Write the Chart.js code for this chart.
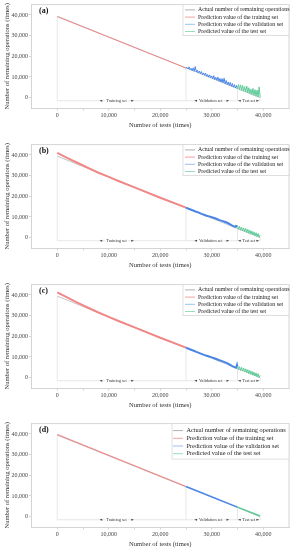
<!DOCTYPE html>
<html><head><meta charset="utf-8">
<script src="https://cdn.jsdelivr.net/npm/chart.js@4.4.0/dist/chart.umd.min.js"></script>
<style>
html,body{margin:0;padding:0;background:#fff;width:294px;height:550px;overflow:hidden;}
.p{position:absolute;left:0;width:294px;height:140px;}
</style></head><body>
<div class="p" style="top:0px"><canvas id="ca" width="294" height="140"></canvas></div>
<div class="p" style="top:140px"><canvas id="cb" width="294" height="140"></canvas></div>
<div class="p" style="top:280px"><canvas id="cc" width="294" height="140"></canvas></div>
<div class="p" style="top:419px"><canvas id="cd" width="294" height="140"></canvas></div>
<script>
// ---------- data ----------
const seriesNames = ['Actual number of remaining operations','Prediction value of the training set','Prediction value of the validation set','Predicted value of the test set'];
const panelLabels = ['(a)','(b)','(c)','(d)'];
const xTitle = 'Number of tests (times)';
const yTitle = 'Number of remaining operations (times)';
const xTicks = [0,5000,10000,15000,20000,25000,30000,35000,40000];
const xTickLabels = ['0','','10,000','','20,000','','30,000','','40,000'];
const yTicks = [0,10000,20000,30000,40000];
const yTickLabels = ['0','10,000','20,000','30,000','40,000'];
const regionNames = ['Training set','Validation set','Test set'];
const regionBounds = [0,25000,35000,39400];
const regionLabelX = [11500,29800,37200];
const regionArrows = [[8500,14600],[26900,33100],[35400,38900]];
const annotationY = -1500;

const actualX = [0,39400];
const actualY = [39400,0];

const valX = [25000,25200,25400,25600,25800,26000,26200,26400,26600,26800,27000,27200,27400,27600,27800,28000,28200,28400,28600,28800,29000,29200,29400,29600,29800,30000,30200,30400,30600,30800,31000,31200,31400,31600,31800,32000,32200,32400,32600,32800,33000,33200,33400,33600,33800,34000,34200,34400,34600,34800,35000];
const testX = [35000,35200,35400,35600,35800,36000,36200,36400,36600,36800,37000,37200,37400,37600,37800,38000,38200,38400,38600,38800,39000,39200,39400];

// panel (a)
const aTrainX = [0,25000];
const aTrainY = [39200,14300];
const aValY = [14300,14600,13900,14900,13500,14200,13100,14400,12800,15000,12400,13300,11900,12900,11600,12600,11100,12000,10800,11900,10300,11200,9900,11000,9600,10500,9100,10600,8700,9800,8400,9900,7900,9300,7500,9200,7200,9400,6700,8300,6300,7600,5900,7400,5500,6800,5100,6300,4700,5900,4300];
const aTestY = [4300,6400,3900,6200,3500,5900,3100,5300,2700,5600,2300,4800,1900,4100,1500,4500,1100,3900,700,3700,300,5200,200];

// panel (b)
const bTrainX = [0,2000,4000,6000,8000,10000,12000,15000,20000,25000];
const bTrainY = [41000,38500,36100,33700,31400,29400,27300,24300,19300,14500];
const bValX = [25000,25500,26000,26500,27000,27500,28000,28500,29000,29500,30000,30500,31000,31500,32000,32500,33000,33500,34000,34500,34700,35000];
const bValY = [14500,14000,13500,13000,12500,12100,11500,11100,10600,10300,9900,9500,9000,8500,8100,7700,7200,6500,5800,5200,5700,5300];
const bTestY = [5800,4000,5500,3600,5100,3300,4700,2900,4400,2500,4000,2100,3600,1700,3200,1300,2800,900,2400,500,2000,200,1200];

// panel (c)
const cTrainX = [0,2000,4000,6000,8000,10000,12000,15000,20000,25000];
const cTrainY = [41200,38700,36200,33800,31500,29400,27300,24300,19300,14500];
const cValX = [25000,25500,26000,26500,27000,27500,28000,28500,29000,29500,30000,30500,31000,31500,32000,32500,33000,33500,34000,34500,34700,34900,35000];
const cValY = [14500,14000,13500,13000,12500,12000,11500,11000,10600,10200,9800,9400,8900,8400,8000,7500,7000,6300,5600,5000,4800,6200,4900];
const cTestY = [5600,3900,5300,3500,5000,3200,4600,2800,4300,2400,3900,2000,3500,1600,3100,1200,2700,800,2300,400,1900,100,1100];

// panel (d)
const dTrainX = [0,25000];
const dTrainY = [39700,14600];
const dValX = [25000,35000];
const dValY = [14600,4600];
const dTestX = [35000,39400];
const dTestY = [4600,300];

// ---------- rendering ----------
const FONT = "'Liberation Serif','Times New Roman',serif";
const COL = {actual:'#c4c4c4', train:'#f08888', val:'#4a86e8', test:'#5ccb98', axis:'#c9c9c9', text:'#333'};
const LEG_COL = ['#b0b0b0','#f4a0a0','#9cc0f0','#98dcc0'];
function pts(xs, ys){ return xs.map((x,i)=>({x:x, y:ys[i]})); }

const annotPlugin = {
  id:'annot',
  beforeDatasetsDraw(chart){
    const ctx = chart.ctx, xs = chart.scales.x, ys = chart.scales.y;
    ctx.save();
    ctx.strokeStyle = '#dcdcdc'; ctx.lineWidth = 0.7;
    const yA = ys.getPixelForValue(annotationY);
    ctx.beginPath();
    ctx.moveTo(xs.getPixelForValue(regionBounds[0]), yA);
    ctx.lineTo(xs.getPixelForValue(regionBounds[regionBounds.length-1]), yA);
    regionBounds.forEach(b=>{
      const px = xs.getPixelForValue(b);
      const top = ys.getPixelForValue(actualY[0] + (actualY[1]-actualY[0])*(b-actualX[0])/(actualX[1]-actualX[0]));
      ctx.moveTo(px, yA); ctx.lineTo(px, top);
    });
    ctx.stroke();
    ctx.restore();
  },
  afterDraw(chart, args, o){
    const ctx = chart.ctx, xs = chart.scales.x, ys = chart.scales.y, ca = chart.chartArea;
    ctx.save();
    // frame top/right
    ctx.strokeStyle = COL.axis; ctx.lineWidth = 0.8;
    ctx.beginPath();
    ctx.moveTo(ca.left, ca.top); ctx.lineTo(ca.right, ca.top); ctx.lineTo(ca.right, ca.bottom);
    ctx.stroke();
    // region labels
    const yA = ys.getPixelForValue(annotationY);
    ctx.font = '4.3px ' + FONT;
    ctx.textAlign = 'center'; ctx.textBaseline = 'middle';
    regionNames.forEach((n,i)=>{
      const px = xs.getPixelForValue(regionLabelX[i]);
      const w = ctx.measureText(n).width;
      ctx.fillStyle = '#fff';
      ctx.fillRect(px - w/2 - 1, yA - 2.5, w + 2, 5);
      ctx.fillStyle = '#333';
      ctx.fillText(n, px, yA + 0.3);
      const [l, r] = regionArrows[i];
      const lx = xs.getPixelForValue(l), rx = xs.getPixelForValue(r);
      ctx.fillStyle = '#444';
      ctx.beginPath(); ctx.moveTo(lx-1.5, yA); ctx.lineTo(lx+1.2, yA-1.1); ctx.lineTo(lx+1.2, yA+1.1); ctx.closePath(); ctx.fill();
      ctx.beginPath(); ctx.moveTo(rx+1.5, yA); ctx.lineTo(rx-1.2, yA-1.1); ctx.lineTo(rx-1.2, yA+1.1); ctx.closePath(); ctx.fill();
    });
    // legend
    const L = o.legend;
    const x0 = ca.right - L.w, y0 = ca.top;
    ctx.fillStyle = '#fff';
    ctx.fillRect(x0, y0, L.w, L.h);
    ctx.strokeStyle = '#d8d8d8'; ctx.lineWidth = 0.8;
    ctx.strokeRect(x0, y0, L.w, L.h);
    ctx.font = L.font + 'px ' + FONT;
    ctx.textAlign = 'left'; ctx.textBaseline = 'middle';
    seriesNames.forEach((n,i)=>{
      const yy = y0 + L.first + i*L.gap;
      ctx.strokeStyle = LEG_COL[i]; ctx.lineWidth = 1;
      ctx.beginPath(); ctx.moveTo(x0 + L.s0, yy); ctx.lineTo(x0 + L.s1, yy); ctx.stroke();
      ctx.fillStyle = '#222';
      ctx.fillText(n, x0 + L.tx, yy);
    });
    // panel label
    ctx.font = 'bold 8px ' + FONT;
    ctx.fillStyle = '#111';
    ctx.textAlign = 'left'; ctx.textBaseline = 'middle';
    ctx.fillText(o.label, ca.left + 7.5, ca.top + 6.8);
    ctx.restore();
  }
};

function makeChart(id, label, train, val, test, widths, legend){
  const datasets = [
    {label: seriesNames[3], data: pts(test[0], test[1]), borderColor: COL.test, borderWidth: widths[2], order: 1},
    {label: seriesNames[2], data: pts(val[0], val[1]), borderColor: COL.val, borderWidth: widths[1], order: 2},
    {label: seriesNames[1], data: pts(train[0], train[1]), borderColor: COL.train, borderWidth: widths[0], order: 3},
    {label: seriesNames[0], data: pts(actualX, actualY), borderColor: COL.actual, borderWidth: 1, order: 4}
  ];
  datasets.forEach(d=>{ d.pointRadius = 0; d.fill = false; d.tension = 0; });
  return new Chart(document.getElementById(id), {
    type: 'line',
    data: {datasets},
    plugins: [annotPlugin],
    options: {
      responsive: false, animation: false, devicePixelRatio: 1,
      layout: {padding: {top: 4, right: 5, left: 0, bottom: 0}},
      plugins: {legend: {display: false}, tooltip: {enabled: false}, annot: {label, legend}},
      scales: {
        x: {
          type: 'linear', min: -5000, max: 45000,
          afterBuildTicks: s => { s.ticks = xTicks.map(v=>({value:v})); },
          afterFit: s => { s.height = 32; },
          ticks: {autoSkip: false, maxRotation: 0, padding: 1, color: '#444', font: {family: FONT, size: 6},
                  callback: (v, i) => xTickLabels[i]},
          grid: {drawOnChartArea: false, drawTicks: true, tickLength: 2.5, color: COL.axis, lineWidth: 0.8},
          border: {display: true, color: COL.axis, width: 0.8},
          title: {display: true, text: xTitle, color: COL.text, font: {family: FONT, size: 6.6}, padding: {top: 0, bottom: 10.5}}
        },
        y: {
          type: 'linear', min: -5000, max: 45000,
          afterBuildTicks: s => { s.ticks = yTicks.map(v=>({value:v})); },
          afterFit: s => { s.width = 31.5; },
          ticks: {autoSkip: false, padding: 1, color: '#444', font: {family: FONT, size: 6},
                  callback: (v, i) => yTickLabels[i]},
          grid: {drawOnChartArea: false, drawTicks: true, tickLength: 2.5, color: COL.axis, lineWidth: 0.8},
          border: {display: true, color: COL.axis, width: 0.8},
          title: {display: true, text: yTitle, color: COL.text, font: {family: FONT, size: 6.6}, padding: {top: 3, bottom: 0}}
        }
      }
    }
  });
}

const legSmall = {w: 106, h: 31, first: 5.3, gap: 7.2, s0: 2, s1: 12, tx: 15, font: 5.8};
const legBig = {w: 117, h: 35.5, first: 7, gap: 7.7, s0: 1, s1: 11, tx: 14.5, font: 6.3};

makeChart('ca', panelLabels[0], [aTrainX, aTrainY], [valX, aValY], [testX, aTestY], [1, 1, 1], legSmall);
makeChart('cb', panelLabels[1], [bTrainX, bTrainY], [bValX, bValY], [testX, bTestY], [2, 2, 1], legSmall);
makeChart('cc', panelLabels[2], [cTrainX, cTrainY], [cValX, cValY], [testX, cTestY], [2, 2, 1], legSmall);
makeChart('cd', panelLabels[3], [dTrainX, dTrainY], [dValX, dValY], [dTestX, dTestY], [1.2, 1.5, 1.5], legBig);
</script>
</body></html>
